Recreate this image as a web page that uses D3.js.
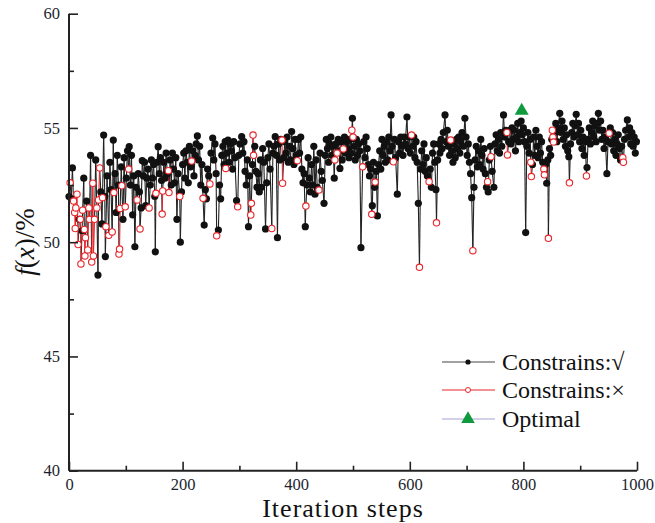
<!DOCTYPE html>
<html>
<head>
<meta charset="utf-8">
<script src="https://cdn.jsdelivr.net/npm/d3@7"></script>
<style>
  html, body { margin: 0; padding: 0; background: #fff; }
  svg { display: block; }
  text { font-family: "Liberation Serif", "Times New Roman", serif; }
</style>
</head>
<body>
<svg id="chart" width="655" height="523"></svg>
<script>
// ---------------- data ----------------
const steps = [
  0, 2, 4, 6, 8, 10, 11, 12, 14, 16,
  18, 20, 21, 23, 24, 26, 27, 28, 29, 31,
  33, 35, 36, 38, 40, 42, 43, 45, 47, 49,
  51, 52, 54, 56, 58, 59, 61, 63, 64, 65,
  67, 70, 72, 74, 76, 78, 79, 81, 83, 85,
  87, 88, 89, 90, 92, 93, 95, 97, 99, 101,
  103, 105, 106, 108, 110, 112, 114, 116, 118, 120,
  122, 124, 125, 127, 129, 131, 133, 135, 137, 139,
  141, 143, 145, 147, 149, 151, 152, 153, 155, 157,
  159, 161, 163, 164, 165, 167, 169, 171, 173, 175,
  176, 178, 180, 182, 184, 186, 188, 190, 192, 195,
  196, 198, 200, 202, 204, 206, 208, 210, 212, 214,
  216, 218, 220, 222, 224, 226, 228, 230, 232, 234,
  236, 238, 240, 242, 244, 246, 248, 250, 253, 255,
  257, 259, 260, 263, 265, 267, 269, 271, 273, 275,
  276, 278, 280, 282, 284, 286, 288, 290, 292, 295,
  297, 299, 301, 304, 306, 308, 310, 312, 314, 316,
  318, 320, 321, 323, 324, 325, 327, 329, 331, 333,
  335, 337, 339, 341, 343, 346, 348, 350, 352, 354,
  357, 359, 361, 363, 365, 367, 369, 371, 373, 375,
  376, 378, 380, 382, 384, 386, 388, 390, 392, 394,
  396, 398, 400, 402, 404, 406, 408, 410, 412, 414,
  416, 417, 419, 421, 423, 425, 427, 429, 431, 433,
  435, 437, 440, 442, 444, 446, 449, 451, 453, 455,
  457, 459, 461, 463, 465, 467, 468, 470, 472, 474,
  476, 477, 479, 481, 483, 485, 487, 489, 491, 493,
  495, 497, 498, 499, 500, 502, 504, 506, 508, 510,
  512, 514, 517, 519, 521, 523, 525, 527, 529, 531,
  533, 534, 536, 538, 539, 541, 543, 545, 547, 549,
  551, 553, 555, 557, 559, 561, 563, 565, 567, 569,
  571, 573, 575, 578, 580, 582, 584, 586, 588, 590,
  592, 595, 597, 599, 601, 603, 605, 607, 609, 611,
  613, 615, 617, 619, 621, 623, 625, 627, 629, 631,
  634, 636, 638, 640, 642, 644, 646, 647, 649, 651,
  653, 655, 657, 659, 662, 664, 666, 668, 670, 672,
  674, 676, 678, 680, 682, 684, 686, 688, 690, 692,
  694, 697, 699, 701, 703, 705, 707, 709, 711, 713,
  715, 717, 719, 721, 723, 725, 727, 729, 731, 733,
  735, 737, 738, 740, 742, 743, 745, 748, 750, 752,
  754, 756, 758, 760, 762, 765, 767, 769, 771, 772,
  774, 776, 778, 780, 782, 784, 786, 788, 790, 792,
  794, 796, 798, 800, 802, 804, 806, 808, 810, 812,
  813, 814, 816, 818, 820, 822, 824, 826, 828, 830,
  832, 834, 836, 837, 839, 841, 843, 844, 846, 848,
  850, 851, 852, 853, 855, 857, 859, 861, 864, 866,
  868, 870, 872, 874, 876, 878, 880, 881, 883, 885,
  887, 889, 891, 893, 895, 897, 899, 901, 903, 905,
  907, 909, 911, 912, 914, 916, 918, 920, 922, 924,
  926, 928, 930, 932, 934, 936, 938, 940, 942, 944,
  947, 949, 951, 953, 955, 957, 959, 961, 963, 965,
  967, 969, 971, 973, 975, 976, 978, 980, 983, 985,
  987, 989, 991, 993, 995, 997, 999
];

const fx = [
  52.0, 52.6, 51.9, 53.25, 51.8, 51.3, 50.6, 51.5, 52.1, 49.9,
  51.0, 51.0, 49.05, 50.5, 51.4, 52.8, 50.56, 49.4, 50.2, 51.8,
  49.66, 51.5, 51.0, 53.8, 49.13, 52.58, 49.4, 51.0, 53.6, 51.5,
  48.56, 51.85, 53.25, 52.2, 50.8, 51.95, 54.69, 52.0, 49.37, 50.68,
  52.9, 50.3, 53.5, 52.3, 50.45, 54.47, 52.17, 53.0, 51.3, 53.8,
  52.5, 49.48, 49.7, 51.48, 53.3, 52.47, 51.0, 53.7, 51.55, 52.8,
  54.0, 53.2, 54.18, 52.5, 53.8, 51.2, 52.9, 49.8, 52.4, 51.85,
  53.0, 52.2, 50.58, 51.5, 53.57, 52.9, 53.5, 51.6, 52.8, 53.2,
  51.5, 52.5, 53.6, 52.8, 53.4, 52.0, 49.58, 52.14, 53.5, 54.18,
  53.0, 53.7, 52.7, 51.23, 52.24, 53.5, 52.8, 53.9, 53.0, 53.13,
  52.17, 53.6, 52.5, 53.9, 53.2, 52.6, 53.7, 51.0, 53.0, 52.0,
  50.0, 52.2, 53.4, 53.9, 52.8, 54.0, 53.5, 52.6, 54.2, 53.3,
  53.55, 54.0, 52.9, 53.8, 54.3, 54.65, 53.6, 54.2, 52.5, 53.4,
  51.92, 50.75, 52.3, 51.9, 53.2, 52.9, 52.55, 53.9, 54.56, 53.6,
  54.3, 53.0, 50.28, 50.53, 52.5, 51.9, 53.8, 54.2, 53.4, 54.4,
  53.23, 53.9, 54.47, 53.5, 54.3, 54.0, 53.2, 54.4, 53.7, 51.82,
  51.55, 53.8, 54.3, 54.62, 53.9, 54.4, 53.1, 52.5, 53.6, 50.68,
  52.9, 51.19, 51.7, 53.4, 54.69, 53.8, 54.2, 53.1, 52.4, 53.0,
  52.2, 53.6, 52.4, 54.1, 53.5, 50.58, 52.6, 53.7, 54.3, 53.2,
  50.6, 53.9, 54.2, 54.62, 53.8, 50.2, 54.3, 53.6, 54.5, 54.47,
  52.58, 53.7, 54.4, 53.9, 54.6, 53.5, 54.2, 53.6, 54.84, 54.1,
  53.4, 54.5, 53.8, 53.57, 54.5, 53.9, 54.6, 53.2, 52.6, 53.0,
  50.68, 51.58, 52.5, 53.7, 52.8, 52.2, 53.4, 52.5, 54.2, 52.1,
  53.6, 52.4, 52.28, 53.9, 53.1, 52.7, 51.7, 53.8, 54.5, 54.1,
  53.5, 54.3, 54.6, 53.8, 54.2, 52.8, 53.6, 54.3, 53.9, 54.5,
  54.0, 53.23, 54.4, 53.6, 54.08, 54.6, 53.9, 54.4, 54.1, 53.7,
  54.5, 53.9, 54.9, 55.42, 54.6, 54.2, 53.6, 54.5, 53.8, 54.3,
  54.0, 49.76, 53.3, 54.4, 53.7, 54.6, 54.1, 53.4, 52.9, 53.2,
  51.22, 51.6, 53.5, 52.4, 52.63, 53.1, 51.15, 53.4, 54.0, 53.2,
  54.5, 53.8, 54.2, 53.5, 54.4, 53.6, 54.6, 54.0, 55.57, 54.2,
  53.52, 54.5, 53.7, 52.1, 54.4, 53.9, 54.6, 54.2, 53.8, 54.6,
  54.3, 55.48, 54.1, 54.6, 53.9, 54.69, 54.2, 54.6, 53.7, 54.4,
  53.5, 51.7, 48.9, 53.2, 54.0, 53.4, 54.3, 53.1, 53.7, 52.9,
  52.65, 53.2, 52.4, 53.9, 54.3, 53.5, 52.3, 50.85, 53.6, 54.3,
  53.9, 54.5, 54.1, 54.8, 55.57, 54.4, 54.9, 54.2, 53.8, 54.47,
  54.0, 53.5, 54.3, 53.7, 54.5, 54.1, 54.6, 53.9, 54.4, 54.8,
  54.2, 55.42, 54.6, 53.8, 54.3, 53.5, 53.0, 51.95, 49.63, 52.4,
  53.6, 54.2, 53.3, 54.0, 53.4, 54.5, 53.8, 53.2, 54.1, 53.0,
  52.4, 52.65, 52.2, 53.6, 54.2, 53.74, 53.1, 52.4, 54.3, 54.7,
  54.0, 54.5, 53.9, 54.8, 54.2, 55.57, 54.6, 54.9, 54.8, 53.82,
  54.4, 54.9, 54.3, 55.0, 54.5, 54.9, 54.0, 54.6, 55.2, 54.4,
  54.8, 55.3, 54.7, 55.0, 54.4, 50.42, 54.2, 54.8, 53.9, 54.5,
  53.5, 52.87, 53.4, 54.6, 53.8, 54.9, 54.2, 53.7, 54.6, 53.9,
  54.4, 53.5, 53.2, 52.95, 53.4, 52.58, 53.6, 50.17, 54.1, 53.8,
  54.5, 54.9, 54.6, 54.38, 54.8, 55.2, 54.4, 55.0, 55.64, 54.8,
  55.3, 54.5, 55.0, 54.2, 54.7, 54.0, 53.74, 52.6, 54.3, 54.8,
  55.2, 54.6, 55.1, 55.6, 54.7, 55.2, 54.4, 54.9, 54.1, 54.6,
  53.8, 54.4, 52.9, 53.27, 54.5, 55.0, 54.3, 54.8, 55.3, 54.6,
  55.1, 54.4, 55.2, 55.64, 54.9, 55.3, 54.5, 54.9, 54.1, 54.6,
  53.0, 54.4, 54.77, 55.0, 54.3, 54.8, 54.0, 54.5, 53.8, 54.3,
  54.7, 54.1, 53.6, 54.2, 53.7, 53.5, 54.5, 54.9, 55.35, 54.6,
  55.0, 54.3, 54.8, 54.2, 54.6, 53.9, 54.4
];

// iteration steps whose solution violated the constraints (red hollow markers)
const infeasibleSteps = [
  2, 8, 10, 11, 12, 14, 16, 20, 21, 24, 27, 28, 29, 33, 35, 36, 40, 42, 43, 45,
  49, 52, 54, 59, 65, 70, 76, 79, 88, 89, 90, 93, 99, 105, 120, 125, 141, 153,
  164, 165, 175, 176, 195, 216, 236, 248, 260, 276, 297, 320, 321, 324, 325,
  357, 375, 376, 402, 417, 440, 468, 472, 483, 498, 500, 517, 533, 539, 571,
  603, 617, 634, 647, 672, 711, 737, 743, 771, 772, 813, 814, 836, 837, 844,
  851, 852, 853, 881, 911, 951, 975, 976
];

const optimalStep = [797];
const optimalValue = [55.75];

const xTicks = [0, 200, 400, 600, 800, 1000];
const xMinorTicks = [100, 300, 500, 700, 900];
const yTicks = [40, 45, 50, 55, 60];
const yMinorTicks = [42.5, 47.5, 52.5, 57.5];

const legendLabels = ["Constrains:\u221A", "Constrains:\u00D7", "Optimal"];

// ---------------- drawing ----------------
const svg = d3.select("#chart");
const x = d3.scaleLinear().domain([0, 1000]).range([69, 637]);
const y = d3.scaleLinear().domain([40, 60]).range([470.7, 13.7]);

const BLACK = "#111111";
const RED = "#e8262b";
const GREEN = "#0f9a3e";

const badSet = new Set(infeasibleSteps);
const pts = steps.map((s, i) => ({ s, v: fx[i], bad: badSet.has(s) }));
const segs = d3.pairs(pts);

// connecting lines
const plot = svg.append("g");
plot.append("g").selectAll("line")
  .data(segs.filter(([a, b]) => !(a.bad && b.bad)))
  .join("line")
  .attr("x1", d => x(d[0].s)).attr("y1", d => y(d[0].v))
  .attr("x2", d => x(d[1].s)).attr("y2", d => y(d[1].v))
  .attr("stroke", "#222").attr("stroke-width", 1.1);

plot.append("g").selectAll("line")
  .data(segs.filter(([a, b]) => a.bad && b.bad))
  .join("line")
  .attr("x1", d => x(d[0].s)).attr("y1", d => y(d[0].v))
  .attr("x2", d => x(d[1].s)).attr("y2", d => y(d[1].v))
  .attr("stroke", RED).attr("stroke-width", 1.1);

// feasible markers
plot.append("g").selectAll("circle")
  .data(pts.filter(d => !d.bad))
  .join("circle")
  .attr("cx", d => x(d.s)).attr("cy", d => y(d.v))
  .attr("r", 3.6).attr("fill", BLACK);

// infeasible markers
plot.append("g").selectAll("circle")
  .data(pts.filter(d => d.bad))
  .join("circle")
  .attr("cx", d => x(d.s)).attr("cy", d => y(d.v))
  .attr("r", 3.2).attr("fill", "#fff")
  .attr("stroke", RED).attr("stroke-width", 1.1);

// optimal
plot.append("g").selectAll("path")
  .data(optimalStep.map((s, i) => ({ s, v: optimalValue[i] })))
  .join("path")
  .attr("transform", d => `translate(${x(d.s)},${y(d.v)})`)
  .attr("d", d3.symbol(d3.symbolTriangle, 85))
  .attr("fill", GREEN);

// axes
const axisColor = "#222";
const yAxis = svg.append("g").attr("transform", "translate(69,0)")
  .call(d3.axisLeft(y).tickValues(yTicks).tickSize(-9).tickPadding(9).tickFormat(d3.format("d")));
const yMinor = svg.append("g").attr("transform", "translate(69,0)")
  .call(d3.axisLeft(y).tickValues(yMinorTicks).tickSize(-5).tickFormat(""));
const xAxis = svg.append("g").attr("transform", "translate(0,470.7)")
  .call(d3.axisBottom(x).tickValues(xTicks).tickSize(-9).tickPadding(8).tickFormat(d3.format("d")));
const xMinor = svg.append("g").attr("transform", "translate(0,470.7)")
  .call(d3.axisBottom(x).tickValues(xMinorTicks).tickSize(-5).tickFormat(""));

[yAxis, yMinor, xAxis, xMinor].forEach(g => {
  g.select(".domain").attr("stroke", axisColor).attr("stroke-width", 2);
  g.selectAll(".tick line").attr("stroke", axisColor).attr("stroke-width", 1.6);
  g.selectAll(".tick text")
    .attr("font-family", "'Liberation Serif', 'Times New Roman', serif")
    .attr("font-size", 16.5).attr("fill", "#1c1f2e");
});
xMinor.select(".domain").remove();
yMinor.select(".domain").remove();
yAxis.select(".domain").attr("d", `M0,${y(60)}V${y(40)}`);
xAxis.select(".domain").attr("d", `M${x(0)},0H${x(1000)}`);

// axis titles
svg.append("text")
  .attr("x", 343).attr("y", 517)
  .attr("text-anchor", "middle")
  .attr("font-size", 26).attr("letter-spacing", 1).attr("fill", "#111")
  .text("Iteration steps");

const yt = svg.append("text")
  .attr("transform", "translate(34,242) rotate(-90)")
  .attr("text-anchor", "middle")
  .attr("font-size", 27).attr("fill", "#111");
yt.append("tspan").attr("font-style", "italic").text("f");
yt.append("tspan").text("(");
yt.append("tspan").attr("font-style", "italic").text("x");
yt.append("tspan").text(")/%");

// legend
const legend = svg.append("g");
const rows = [
  { label: legendLabels[0], line: "#444", kind: "dot" },
  { label: legendLabels[1], line: RED, kind: "ring" },
  { label: legendLabels[2], line: "#a3a3d6", kind: "tri" }
];
const rowY = [362, 390, 419];
rows.forEach((r, i) => {
  const g = legend.append("g").attr("transform", `translate(0,${rowY[i]})`);
  g.append("line").attr("x1", 442).attr("x2", 495).attr("y1", 0).attr("y2", 0)
    .attr("stroke", r.line).attr("stroke-width", 1.2);
  if (r.kind === "dot") {
    g.append("circle").attr("cx", 468).attr("cy", 0).attr("r", 2.6).attr("fill", BLACK);
  } else if (r.kind === "ring") {
    g.append("circle").attr("cx", 468).attr("cy", 0).attr("r", 2.5)
      .attr("fill", "#fff").attr("stroke", RED).attr("stroke-width", 1);
  } else {
    g.append("path").attr("transform", "translate(468,0)")
      .attr("d", d3.symbol(d3.symbolTriangle, 80)).attr("fill", GREEN);
  }
  g.append("text").attr("x", 502).attr("y", 8)
    .attr("font-size", 24).attr("fill", "#111").text(r.label);
});
</script>
</body>
</html>
